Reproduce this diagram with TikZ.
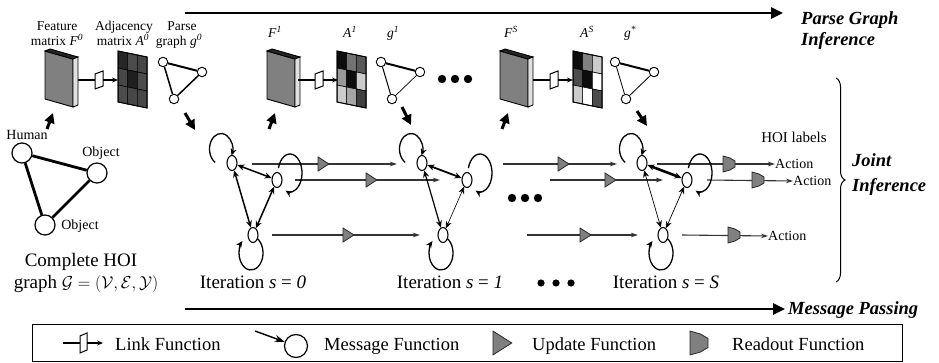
\documentclass[tikz,border=0pt]{standalone}
\usepackage{fontspec}
\setmainfont{Liberation Serif}
\usetikzlibrary{arrows.meta,shapes.geometric,calc,decorations.pathreplacing}

\newcommand{\featslab}[2]{% name, x shift
 \begin{scope}[shift={(#2,0)}]
  \filldraw[fill=black!50, line width=0.9pt] (45,51) -- (73,59) -- (73,107) -- (45,99) -- cycle;
  \filldraw[fill=black!85, line width=0.9pt] (45,51) -- (50,49) -- (78,57) -- (73,59) -- cycle;
  \filldraw[fill=black!12, line width=0.9pt] (73,59) -- (78,57) -- (78,105) -- (73,107) -- cycle;
  \coordinate (#1bot) at (53,113);
  \coordinate (#1tail) at (47,129);
 \end{scope}}

\newcommand{\linkfn}[1]{%
 \begin{scope}[shift={(#1,0)}]
  \draw[line width=1.1pt] (78,80) -- (95,80);
  \draw[line width=1pt, fill=white] (95,74) -- (103,71) -- (103,86) -- (95,89) -- cycle;
  \draw[line width=1.1pt, -{Stealth[length=6pt,width=5pt]}] (103,80) -- (118,80);
 \end{scope}}

\newcommand{\adjmat}[2]{%
 \begin{scope}[shift={(#1,0)}]
  \foreach \g [count=\k from 0] in {#2} {
    \pgfmathtruncatemacro{\rr}{int(\k/3)}
    \pgfmathtruncatemacro{\cc}{mod(\k,3)}
    \filldraw[fill=black!\g, draw=black, line width=0.6pt]
      ({118+9.67*\cc},{51+2*\cc+17*\rr}) -- ++(9.67,2) -- ++(0,17) -- ++(-9.67,-2) -- cycle;
  }
  \draw[line width=1pt] (118,51) -- (147,57) -- (147,108) -- (118,102) -- cycle;
 \end{scope}}

\newcommand{\parsegraph}[5]{% name, shift, top lw, left lw, right lw
 \begin{scope}[shift={(#2,0)}]
  \node[gn] (#1a) at (163,62) {};
  \node[gn] (#1b) at (202,72) {};
  \node[gn] (#1c) at (174,99) {};
  \draw[line width=#3] (#1a) -- (#1b);
  \draw[line width=#4] (#1a) -- (#1c);
  \draw[line width=#5] (#1b) -- (#1c);
 \end{scope}}

\newcommand{\itergraph}[5]{% suffix, shift, ab lw, ac lw, bc lw
 \begin{scope}[shift={(#2,0)}]
  \draw[loopar] (221,149) ++(240:11.5pt and 15.5pt) arc[start angle=240, end angle=-25, x radius=11.5pt, y radius=15.5pt];
  \draw[loopar] (290,173) ++(165:12pt and 19pt) arc[start angle=165, end angle=-112, x radius=12pt, y radius=19pt];
  \draw[loopar] (251,253) ++(60:12pt and 17pt) arc[start angle=60, end angle=-225, x radius=12pt, y radius=17pt];
  \node[en] (A#1) at (232,163) {};
  \node[en] (B#1) at (277,180) {};
  \node[en] (C#1) at (253,235) {};
  \draw[<->, line width=#3] (A#1) -- (B#1);
  \draw[<->, line width=#4] (A#1) -- (C#1);
  \draw[<->, line width=#5] (B#1) -- (C#1);
 \end{scope}}

\newcommand{\updtri}[3]{% x, y, scale
  \filldraw[fill=black!50, draw=black!85, line width=0.8pt] (#1,#2) ++(0,-7*#3) -- ++(11*#3,7*#3) -- ++(-11*#3,7*#3) -- cycle;}
\newcommand{\readout}[3]{% x, y, scale
  \filldraw[fill=black!50, draw=black!85, line width=0.8pt] (#1,#2) ++(0,-8*#3) -- ++(7*#3,2*#3) -- ++(5*#3,3*#3) -- ++(0,6*#3) -- ++(-5*#3,3*#3) -- ++(-7*#3,2*#3) -- cycle;}

\begin{document}
\begin{tikzpicture}[x=1pt,y=-1pt,
  >={Stealth[length=7pt,width=6pt]},
  lbl/.style={font=\fontsize{13.5}{15}\selectfont, inner sep=0pt, anchor=base},
  sm/.style={font=\fontsize{14}{16}\selectfont, inner sep=0pt},
  big/.style={font=\fontsize{19}{22}\selectfont, inner sep=0pt, anchor=base},
  leg/.style={font=\fontsize{18.5}{22}\selectfont, inner sep=0pt, anchor=base west},
  bi/.style={font=\fontsize{18.5}{22}\selectfont\bfseries\itshape, inner sep=0pt, anchor=base west},
  gn/.style={circle, draw, fill=white, line width=0.9pt, minimum size=9.5pt, inner sep=0pt},
  hn/.style={circle, draw, fill=white, line width=1.2pt, minimum size=20pt, inner sep=0pt},
  en/.style={ellipse, draw, fill=white, line width=1.1pt, minimum width=10pt, minimum height=15pt, inner sep=0pt},
  thk/.style={line width=3pt, -{Triangle[length=10pt,width=10pt]}},
  loopar/.style={line width=1.3pt, ->},
  msg/.style={line width=1.1pt, draw=black!80, -{Stealth[length=7pt,width=4.5pt]}},
]
\useasboundingbox (0,0) rectangle (939,363);

% ---------- top and bottom process arrows
\coordinate (pgs) at (185,13); \coordinate (pge) at (783,13);
\draw[line width=2.8pt, -{Triangle[length=12pt,width=11pt]}] (pgs) -- (pge);
\node[bi] (pgt1) at (801,25) {Parse Graph};
\node[bi] (pgt2) at (801,46) {Inference};
\coordinate (mps) at (185,309); \coordinate (mpe) at (785,309);
\draw[line width=2.8pt, -{Triangle[length=12pt,width=11pt]}] (mps) -- (mpe);
\node[bi] (mpt) at (788,314) {Message Passing};

% ---------- top labels
\node[lbl] (l1) at (57,31) {Feature};
\node[lbl] (l2) at (57,46) {matrix \textit{F}\textsuperscript{\textit{0}}};
\node[lbl] (l3) at (124,31) {Adjacency};
\node[lbl] (l4) at (123,46) {matrix \textit{A}\textsuperscript{\textit{0}}};
\node[lbl] (l5) at (182,31) {Parse};
\node[lbl] (l6) at (179,46) {graph \textit{g}\textsuperscript{\textit{0}}};
\node[lbl] (l7) at (275,38) {\textit{F}\textsuperscript{\textit{1}}};
\node[lbl] (l8) at (350,38) {\textit{A}\textsuperscript{\textit{1}}};
\node[lbl] (l9) at (393,38) {\textit{g}\textsuperscript{\textit{1}}};
\node[lbl] (l10) at (511,38) {\textit{F}\textsuperscript{\textit{S}}};
\node[lbl] (l11) at (587,38) {\textit{A}\textsuperscript{\textit{S}}};
\node[lbl] (l12) at (630,38) {\textit{g}\textsuperscript{\textit{*}}};

% ---------- feature / adjacency / parse graphs
\featslab{f0}{0}
\linkfn{0}
\adjmat{0}{85,70,72,72,88,70,70,72,72}
\parsegraph{g0}{0}{2pt}{1.5pt}{1.5pt}

\featslab{f1}{222}
\linkfn{220}
\adjmat{219}{95,55,65,40,95,20,20,35,75}
\parsegraph{g1}{218}{2pt}{1pt}{0.7pt}

\featslab{fS}{455}
\linkfn{455}
\adjmat{455}{95,50,20,70,95,0,20,0,70}
\parsegraph{gS}{452}{2pt}{0.8pt}{0.8pt}

\fill (442,79) circle (4.2pt) (455,79) circle (4.2pt) (468,79) circle (4.2pt);

% ---------- thick arrows
\draw[thk] (f0tail) -- (f0bot);
\draw[thk] (f1tail) -- (f1bot);
\draw[thk] (fStail) -- (fSbot);
\coordinate (g0t) at (185,113); \coordinate (g0h) at (195,130);
\draw[thk] (g0t) -- (g0h);
\coordinate (g1t) at (402,107); \coordinate (g1h) at (411,125);
\draw[thk] (g1t) -- (g1h);
\coordinate (gSt) at (637,111); \coordinate (gSh) at (647,126);
\draw[thk] (gSt) -- (gSh);

% ---------- complete HOI graph
\node[hn] (hu) at (22,153) {};
\node[hn] (ob1) at (97,173) {};
\node[hn] (ob2) at (45,225) {};
\draw[line width=2.8pt] (hu) -- (ob1);
\draw[line width=2.8pt] (hu) -- (ob2);
\draw[line width=2.8pt] (ob1) -- (ob2);
\node[sm, anchor=base] (hut) at (27,140) {Human};
\node[sm, anchor=base] (ob1t) at (101,157) {Object};
\node[sm, anchor=base] (ob2t) at (80,230) {Object};
\node[big] (ch1) at (81,266) {Complete HOI};
\node[big] (ch2) at (86,288) {graph $\mathcal{G}=(\mathcal{V},\mathcal{E},\mathcal{Y})$};

% ---------- message arrows
\coordinate (r1a) at (252,164); \coordinate (r1b) at (397,164);
\coordinate (r2a) at (295,180); \coordinate (r2b) at (440,180);
\coordinate (r3a) at (272,235); \coordinate (r3b) at (420,235);
\draw[msg] (r1a) -- (r1b); \updtri{318}{164}{1}
\draw[msg] (r2a) -- (r2b); \updtri{366}{180}{1}
\draw[msg] (r3a) -- (r3b); \updtri{343}{235}{1}
\coordinate (s1a) at (503,164); \coordinate (s1b) at (617,164);
\coordinate (s2a) at (550,180); \coordinate (s2b) at (663,180);
\coordinate (s3a) at (527,235); \coordinate (s3b) at (638,235);
\draw[msg] (s1a) -- (s1b); \updtri{558}{164}{1}
\draw[msg] (s2a) -- (s2b); \updtri{605}{180}{1}
\draw[msg] (s3a) -- (s3b); \updtri{580}{235}{1}
\node[sm, anchor=west] (act1) at (775,164) {Action};
\node[sm, anchor=west] (act2) at (793,181) {Action};
\node[sm, anchor=west] (act3) at (768,236) {Action};
\draw[msg] (657,164) -- (act1.west); \readout{723}{164}{1}
\draw[msg] (707,180) -- (act2.west); \readout{752}{180}{1}
\draw[msg] (682,235) -- (act3.west); \readout{728}{235}{1}
\node[font=\fontsize{15}{17}\selectfont, inner sep=0pt, anchor=base] (hoil) at (794,143) {HOI labels};

% ---------- iteration graphs
\itergraph{0}{0}{1.5pt}{1.5pt}{1.5pt}
\itergraph{1}{190}{1.8pt}{1.2pt}{0.6pt}
\itergraph{S}{410}{2.6pt}{0.7pt}{0.7pt}
\fill (512,198) circle (4.2pt) (525,198) circle (4.2pt) (538,198) circle (4.2pt);

\node[big] (it0) at (253,288) {Iteration \textit{s} = \textit{0}};
\node[big] (it1) at (450,288) {Iteration \textit{s} = \textit{1}};
\node[big] (itS) at (666,288) {Iteration \textit{s} = \textit{S}};
\fill (541,283) circle (3.6pt) (556,283) circle (3.6pt) (571,283) circle (3.6pt);

% ---------- brace
\coordinate (brt) at (836,78); \coordinate (brb) at (836,282);
\draw[decorate, decoration={brace, amplitude=9pt}, line width=1pt] (brt) -- (brb);
\node[bi] (ji1) at (852,167) {Joint};
\node[bi] (ji2) at (852,192) {Inference};

% ---------- legend
\draw[line width=1pt] (32,324) rectangle (902,361);
\coordinate (lk1) at (63,343);
\draw[line width=1.1pt] (lk1) -- (80,343);
\draw[line width=1pt, fill=white] (80,336) -- (87,333) -- (87,350) -- (80,353) -- cycle;
\draw[line width=1.1pt, -{Stealth[length=6pt,width=5pt]}] (87,343) -- (103,343);
\node[leg] (lt1) at (115,350) {Link Function};
\node[circle, draw, line width=1.2pt, minimum size=23pt, inner sep=0pt] (lmc) at (296,346) {};
\coordinate (lma) at (255,331);
\draw[line width=1.4pt, -{Stealth[length=10pt,width=7pt]}] (lma) -- (lmc);
\node[leg] (lt2) at (324,350) {Message Function};
\updtri{493}{343}{1.7}
\node[leg] (lt3) at (532,350) {Update Function};
\readout{690}{343}{1.5}
\node[leg] (lt4) at (732,350) {Readout Function};
\end{tikzpicture}
\end{document}
